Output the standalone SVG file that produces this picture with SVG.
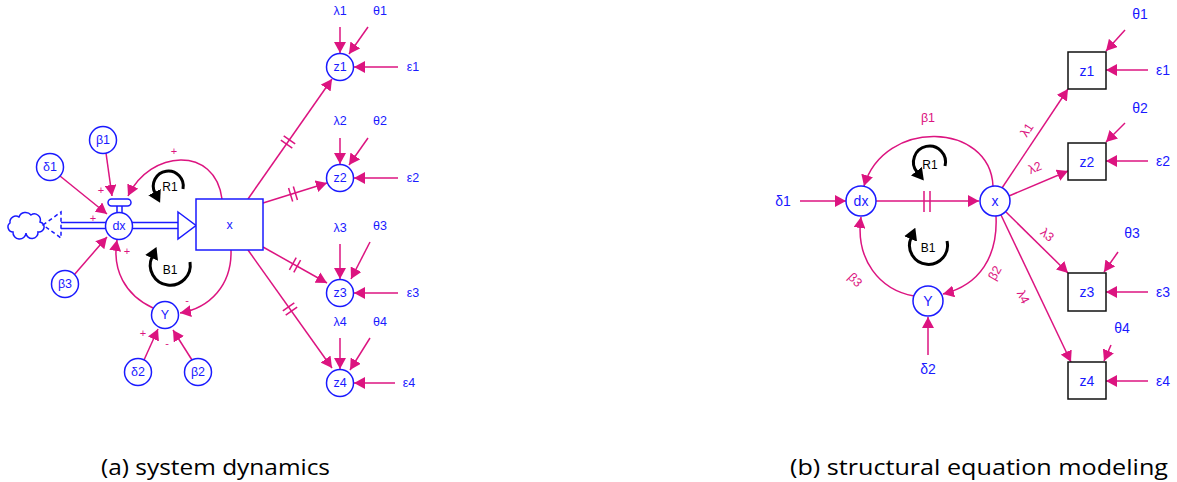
<svg xmlns="http://www.w3.org/2000/svg" width="1177" height="482" viewBox="0 0 1177 482">
<style>
.c{fill:#fff;stroke:#1a1aff;stroke-width:1.5}
.b{fill:#fff;stroke:#111;stroke-width:1.5}
.t{font-family:"Liberation Sans",Arial,sans-serif;font-size:12.5px;fill:#1a1aff;text-anchor:middle;dominant-baseline:central}
.p{font-family:"Liberation Sans",Arial,sans-serif;font-size:12.5px;fill:#dc1480;text-anchor:middle;dominant-baseline:central}
.s{font-family:"Liberation Sans",Arial,sans-serif;font-size:11px;fill:#dc1480;text-anchor:middle;dominant-baseline:central}
.k{font-family:"Liberation Sans",Arial,sans-serif;font-size:12px;fill:#000;text-anchor:middle;dominant-baseline:central}
.a{fill:none;stroke:#dc1480;stroke-width:1.5;marker-end:url(#ah)}
.l{fill:none;stroke:#dc1480;stroke-width:1.5}
.lp{fill:none;stroke:#000;stroke-width:3;marker-end:url(#lh)}
.cap{font-family:"Open Sans","Liberation Sans",sans-serif;font-size:22px;fill:#000}
</style>
<defs>
<marker id="ah" viewBox="0 0 11 12" refX="11" refY="6" markerWidth="11" markerHeight="12" markerUnits="userSpaceOnUse" orient="auto"><path d="M0,0 L11,6 L0,12 z" fill="#dc1480"/></marker>
<marker id="lh" viewBox="0 0 12 14" refX="1" refY="7" markerWidth="12" markerHeight="14" markerUnits="userSpaceOnUse" orient="auto"><path d="M0,0 L12,7 L0,14 z" fill="#000"/></marker>
<g id="hatch"><line x1="-2.5" y1="-7" x2="-2.5" y2="7" stroke="#dc1480" stroke-width="1.5"/><line x1="2.5" y1="-7" x2="2.5" y2="7" stroke="#dc1480" stroke-width="1.5"/></g>
</defs>
<rect width="1177" height="482" fill="#fff"/>

<!-- ============ (a) system dynamics ============ -->
<g id="a-connectors">
  <!-- flow pipe -->
  <g id="a-flow" stroke="#1a1aff" stroke-width="1.5" fill="none">
    <path d="M13,232 a5,5 0 0 1 -3,-9 a6,6 0 0 1 9,-6 a7,7 0 0 1 12,-2 a6,6 0 0 1 9,7 a5,5 0 0 1 -2,10 a6,6 0 0 1 -12,1 a6,6 0 0 1 -13,-1 z" fill="#fff"/>
    <path d="M43,225 L61,212 L61,238 Z" stroke-dasharray="4,3"/>
    <line x1="61" y1="222.5" x2="178" y2="222.5"/>
    <line x1="61" y1="228.5" x2="178" y2="228.5"/>
    <polygon points="178,212 196,225.5 178,239" fill="#fff"/>
  </g>
  <path class="a" d="M106,153 L112,196"/>
  <path class="a" d="M60,176 L107,214"/>
  <path class="a" d="M74,275 L107,237"/>
  <path class="a" d="M222,199 C215,145 150,150 128,196"/>
  <path class="a" d="M231,250 C232,285 210,308 180,313"/>
  <path class="a" d="M153,308 C125,295 112,270 117,240"/>
  <path class="a" d="M144,360 L158,329"/>
  <path class="a" d="M192,360 L173,330"/>
  <!-- z links -->
  <path class="a" d="M248,199 L332,79"/>
  <path class="a" d="M263,203 L327,183"/>
  <path class="a" d="M263,247 L327,283"/>
  <path class="a" d="M248,250 L332,368"/>
  <use href="#hatch" transform="translate(288,142) rotate(-55)"/>
  <use href="#hatch" transform="translate(293,194) rotate(-17)"/>
  <use href="#hatch" transform="translate(295,265) rotate(29)"/>
  <use href="#hatch" transform="translate(290,309) rotate(55)"/>
  <!-- z inputs -->
  <path class="a" d="M340,27 L340,53"/>
  <path class="a" d="M368,27 L349,54"/>
  <path class="a" d="M398,67 L354,67"/>
  <path class="a" d="M340,138 L340,164"/>
  <path class="a" d="M368,138 L349,165"/>
  <path class="a" d="M398,178 L354,178"/>
  <path class="a" d="M340,244 L340,279"/>
  <path class="a" d="M370,242 L351,279"/>
  <path class="a" d="M398,293 L354,293"/>
  <path class="a" d="M340,338 L340,369"/>
  <path class="a" d="M370,338 L350,370"/>
  <path class="a" d="M395,383 L354,383"/>
  <!-- polarity signs -->
  <text class="s" x="174" y="151">+</text>
  <text class="s" x="101" y="190">+</text>
  <text class="s" x="93" y="218">+</text>
  <text class="s" x="127" y="251">+</text>
  <text class="s" x="187" y="300">-</text>
  <text class="s" x="143" y="333">+</text>
  <text class="s" x="167" y="343">-</text>
</g>

<g id="a-loop-R1">
  <path class="lp" d="M183,189 A15,15 0 1 0 155,193"/>
  <text class="k" x="170" y="187">R1</text>
</g>
<g id="a-loop-B1">
  <path class="lp" d="M190,262 A20,20 0 1 1 152,257"/>
  <text class="k" x="170" y="270">B1</text>
</g>

<g id="a-x"><rect class="c" x="196" y="199" width="67" height="51"/><text class="t" x="229.5" y="225">x</text></g>
<g id="a-valve" stroke="#1a1aff" stroke-width="1.5" fill="#fff">
  <line x1="117" y1="205" x2="117" y2="213"/><line x1="122" y1="205" x2="122" y2="213"/>
  <rect x="108" y="199" width="23" height="7" rx="3.5"/>
</g>
<g id="a-dx"><circle class="c" cx="119" cy="226" r="13.5"/><text class="t" x="119" y="226">dx</text></g>
<g id="a-d1"><circle class="c" cx="50" cy="167" r="13.5"/><text class="t" x="50" y="167">δ1</text></g>
<g id="a-b1"><circle class="c" cx="103" cy="140" r="13.5"/><text class="t" x="103" y="140">β1</text></g>
<g id="a-b3"><circle class="c" cx="65" cy="284" r="13.5"/><text class="t" x="65" y="284">β3</text></g>
<g id="a-Y"><circle class="c" cx="165" cy="315" r="13.5"/><text class="t" x="165" y="315">Y</text></g>
<g id="a-d2"><circle class="c" cx="138" cy="372" r="13.5"/><text class="t" x="138" y="372">δ2</text></g>
<g id="a-b2"><circle class="c" cx="198" cy="372" r="13.5"/><text class="t" x="198" y="372">β2</text></g>
<g id="a-z1"><circle class="c" cx="340" cy="67" r="13.5"/><text class="t" x="340" y="67">z1</text></g>
<g id="a-z2"><circle class="c" cx="340" cy="178" r="13.5"/><text class="t" x="340" y="178">z2</text></g>
<g id="a-z3"><circle class="c" cx="340" cy="293" r="13.5"/><text class="t" x="340" y="293">z3</text></g>
<g id="a-z4"><circle class="c" cx="340" cy="383" r="13.5"/><text class="t" x="340" y="383">z4</text></g>
<g id="a-labels">
  <text class="t" x="340" y="11">λ1</text><text class="t" x="380" y="11">θ1</text><text class="t" x="413" y="67">ε1</text>
  <text class="t" x="340" y="121">λ2</text><text class="t" x="380" y="121">θ2</text><text class="t" x="413" y="178">ε2</text>
  <text class="t" x="340" y="228">λ3</text><text class="t" x="380" y="226">θ3</text><text class="t" x="413" y="293">ε3</text>
  <text class="t" x="340" y="322">λ4</text><text class="t" x="380" y="322">θ4</text><text class="t" x="409" y="383">ε4</text>
</g>

<!-- ============ (b) structural equation modeling ============ -->
<g id="b-connectors">
  <path class="a" d="M800,201 L846,201"/>
  <path class="a" d="M876,201 L979,201"/>
  <line class="l" x1="924" y1="191" x2="924" y2="212"/>
  <line class="l" x1="930" y1="191" x2="930" y2="212"/>
  <path class="a" d="M993,186 C990,122 884,118 864,186"/>
  <path class="a" d="M996,216 C998,256 980,285 943,294"/>
  <path class="a" d="M914,296 C880,290 855,260 861,217"/>
  <path class="a" d="M928,355 L928,317"/>
  <path class="a" d="M1002,188 L1068,89"/>
  <path class="a" d="M1009,196 L1068,171"/>
  <path class="a" d="M1006,212 L1068,273"/>
  <path class="a" d="M1001,215 L1071,362"/>
  <path class="a" d="M1125,30 L1106,51"/>
  <path class="a" d="M1148,70 L1106,70"/>
  <path class="a" d="M1125,123 L1106,142"/>
  <path class="a" d="M1148,161 L1106,161"/>
  <path class="a" d="M1118,252 L1104,272"/>
  <path class="a" d="M1148,292 L1106,292"/>
  <path class="a" d="M1111,345 L1104,361"/>
  <path class="a" d="M1148,381 L1106,381"/>
  <text class="p" x="928" y="118">β1</text>
  <text class="p" transform="translate(995,273) rotate(-60)">β2</text>
  <text class="p" transform="translate(855,280) rotate(45)">β3</text>
  <text class="p" transform="translate(1027,130) rotate(-57)">λ1</text>
  <text class="p" transform="translate(1035,168) rotate(-23)">λ2</text>
  <text class="p" transform="translate(1047,235) rotate(40)">λ3</text>
  <text class="p" transform="translate(1023,297) rotate(63)">λ4</text>
</g>
<g id="b-loop-R1">
  <path class="lp" d="M945,166 A16,16 0 1 0 917,172"/>
  <text class="k" x="930" y="165">R1</text>
</g>
<g id="b-loop-B1">
  <path class="lp" d="M947,241 A19,19 0 1 1 911,238"/>
  <text class="k" x="928" y="248">B1</text>
</g>
<g id="b-dx"><circle class="c" cx="861" cy="201" r="15"/><text class="t" x="861" y="201" style="font-size:14px">dx</text></g>
<g id="b-x"><circle class="c" cx="995" cy="201" r="15"/><text class="t" x="995" y="201" style="font-size:14px">x</text></g>
<g id="b-Y"><circle class="c" cx="928" cy="301" r="15"/><text class="t" x="928" y="301" style="font-size:14px">Y</text></g>
<g id="b-z1"><rect class="b" x="1068" y="52" width="38" height="37"/><text class="t" x="1087" y="70.5" style="font-size:14px">z1</text></g>
<g id="b-z2"><rect class="b" x="1068" y="143" width="38" height="37"/><text class="t" x="1087" y="161.5" style="font-size:14px">z2</text></g>
<g id="b-z3"><rect class="b" x="1068" y="273" width="38" height="38"/><text class="t" x="1087" y="292" style="font-size:14px">z3</text></g>
<g id="b-z4"><rect class="b" x="1068" y="362" width="38" height="37"/><text class="t" x="1087" y="380.5" style="font-size:14px">z4</text></g>
<g id="b-labels" style="font-size:14px">
  <text class="t" x="783" y="201" style="font-size:14px">δ1</text>
  <text class="t" x="928" y="369" style="font-size:14px">δ2</text>
  <text class="t" x="1140" y="14" style="font-size:14px">θ1</text><text class="t" x="1163" y="70" style="font-size:14px">ε1</text>
  <text class="t" x="1140" y="108" style="font-size:14px">θ2</text><text class="t" x="1163" y="161" style="font-size:14px">ε2</text>
  <text class="t" x="1132" y="233" style="font-size:14px">θ3</text><text class="t" x="1163" y="292" style="font-size:14px">ε3</text>
  <text class="t" x="1122" y="328" style="font-size:14px">θ4</text><text class="t" x="1163" y="381" style="font-size:14px">ε4</text>
</g>

<g id="captions">
  <text class="cap" x="101" y="475" textLength="229" lengthAdjust="spacingAndGlyphs">(a) system dynamics</text>
  <text class="cap" x="790" y="475" textLength="378" lengthAdjust="spacingAndGlyphs">(b) structural equation modeling</text>
</g>
</svg>
